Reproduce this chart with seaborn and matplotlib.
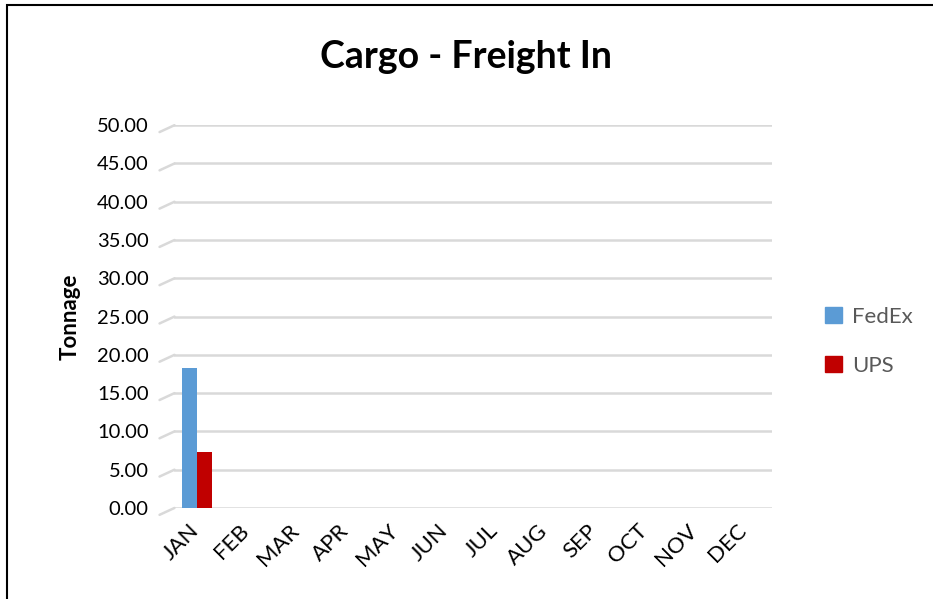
import pandas as pd
import numpy as np
import seaborn as sns
import matplotlib.pyplot as plt
import matplotlib.transforms as mtransforms
from matplotlib.patches import Rectangle

months = ['JAN', 'FEB', 'MAR', 'APR', 'MAY', 'JUN', 'JUL', 'AUG', 'SEP', 'OCT', 'NOV', 'DEC']
fedex = [18.3, np.nan, np.nan, np.nan, np.nan, np.nan, np.nan, np.nan, np.nan, np.nan, np.nan, np.nan]
ups = [7.3, np.nan, np.nan, np.nan, np.nan, np.nan, np.nan, np.nan, np.nan, np.nan, np.nan, np.nan]
carriers = ['FedEx', 'UPS']
colors = ['#5B9BD5', '#C00000']

data = pd.DataFrame({'Month': months * 2,
                     'Carrier': ['FedEx'] * 12 + ['UPS'] * 12,
                     'Tonnage': fedex + ups})

sns.set_style('white')
plt.rcParams['font.family'] = ['Lato', 'DejaVu Sans']

fig = plt.figure(figsize=(9.33, 5.99), dpi=100)
ax = fig.add_axes([0.187, 0.152, 0.64, 0.639])

sns.barplot(data=data, x='Month', y='Tonnage', hue='Carrier', palette=colors,
            order=months, hue_order=carriers, width=0.6, ax=ax, legend=False,
            saturation=1, edgecolor='none', linewidth=0, zorder=3)

ax.set_ylim(0, 50)
ax.set_xlim(-0.45, 11.55)
yt = np.arange(0, 51, 5)
ax.set_yticks(yt)
ax.set_yticklabels([f'{v:.2f}' for v in yt], fontsize=14.5, color='black')
ax.yaxis.grid(True, color='#D9D9D9', linewidth=1.8, zorder=0)
ax.tick_params(axis='y', pad=18.5, length=0)
ax.tick_params(axis='x', length=0, pad=9)
shift = mtransforms.ScaledTranslation(-8 / 100, 0, fig.dpi_scale_trans)
for lab in ax.get_xticklabels():
    lab.set_rotation(45)
    lab.set_ha('right')
    lab.set_rotation_mode('anchor')
    lab.set_fontsize(16)
    lab.set_color('black')
    lab.set_transform(lab.get_transform() + shift)
for s in ax.spines.values():
    s.set_visible(False)

# 3d wall stubs on the left
trans = ax.get_yaxis_transform()
for v in yt:
    ax.plot([-0.025, 0], [v - 0.9, v], transform=trans, color='#D9D9D9',
            linewidth=1.8, clip_on=False)

ax.set_xlabel('')
ax.set_ylabel('Tonnage', fontsize=16, fontweight='bold', labelpad=12, color='black')

fig.suptitle('Cargo - Freight In', fontsize=27, fontweight='bold', y=0.905,
             va='center', color='black')

handles = [Rectangle((0, 0), 1, 1, color=c) for c in colors]
leg = fig.legend(handles, carriers, loc='center left', bbox_to_anchor=(0.863, 0.43),
                 frameon=False, fontsize=16, handlelength=0.75, handleheight=0.75,
                 labelspacing=1.3, handletextpad=0.45)
for t in leg.get_texts():
    t.set_color('#595959')

fig.patches.append(Rectangle((0.008, -0.1), 1.1, 1.092, transform=fig.transFigure,
                             fill=False, edgecolor='black', linewidth=1.5))

fig.savefig('out.png', dpi=100)
